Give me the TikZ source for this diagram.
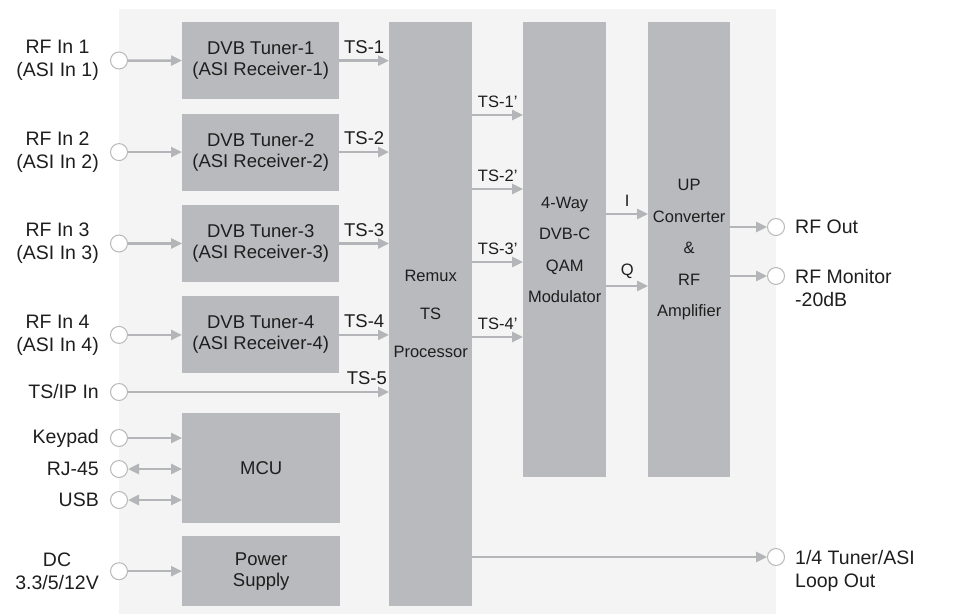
\documentclass[tikz,border=0pt]{standalone}
\usepackage{fontspec}
\setmainfont{Liberation Sans}
\usepackage{tikz}
\usetikzlibrary{arrows.meta,positioning}
\definecolor{PanelGray}{HTML}{F4F4F4}
\definecolor{BoxGray}{HTML}{B9BABD}
\definecolor{LineGray}{HTML}{B4B5B8}
\definecolor{PortGray}{HTML}{B8B8B8}
\definecolor{TextDark}{HTML}{1E1E1E}

\begin{document}
\begin{tikzpicture}[
  x=1pt,y=-1pt,
  node distance=14pt,
  every node/.style={font=\fontsize{18.5}{21}\selectfont,text=TextDark},
  blk/.style={fill=BoxGray,inner sep=0pt,align=center,anchor=north west},
  tuner/.style={blk,minimum width=157pt,minimum height=77pt},
  tall/.style={blk,minimum width=83pt,minimum height=455pt,
    font=\fontsize{16.5}{31.5}\selectfont},
  port/.style={circle,draw=PortGray,fill=white,line width=1pt,
    minimum size=17pt,inner sep=0pt},
  lbl/.style={inner sep=1pt,align=center,font=\fontsize{19.5}{23}\selectfont},
  sig/.style={-{Triangle[length=11pt,width=10pt]},line width=2.5pt,draw=LineGray},
  bidir/.style={sig,{Triangle[length=11pt,width=10pt]}-{Triangle[length=11pt,width=10pt]}},
  tag/.style={above=5pt,inner sep=1pt},
  tagp/.style={tag,font=\fontsize{16.5}{19}\selectfont}
]
  \useasboundingbox (0,0) rectangle (979,614);
  \fill[PanelGray] (119,9) rectangle (776,614);

  % tuners and control blocks
  \node[tuner] (tun1) at (182,22) {DVB Tuner-1\\(ASI Receiver-1)};
  \node[tuner,below=of tun1] (tun2) {DVB Tuner-2\\(ASI Receiver-2)};
  \node[tuner,below=of tun2] (tun3) {DVB Tuner-3\\(ASI Receiver-3)};
  \node[tuner,below=of tun3] (tun4) {DVB Tuner-4\\(ASI Receiver-4)};
  \node[blk,minimum width=158pt,minimum height=110pt] (mcu) at (182,413) {MCU};
  \node[blk,minimum width=158pt,minimum height=70pt] (psu) at (182,536) {Power\\Supply};

  % processing chain
  \node[tall,minimum height=584pt,font=\fontsize{16.5}{38}\selectfont] (remux) at (389,22) {Remux\\TS\\Processor};
  \node[tall] (qam) at (523,22) {4-Way\\DVB-C\\QAM\\Modulator};
  \node[tall,minimum width=82pt] (upc) at (648,22) {UP\\Converter\\\&\\RF\\Amplifier};

  % input ports
  \node[port] (in1) at (119,60.5) {};
  \node[port] (in2) at (in1 |- tun2) {};
  \node[port] (in3) at (in1 |- tun3) {};
  \node[port] (in4) at (in1 |- tun4) {};
  \node[port] (tsip) at (119,392) {};
  \node[port] (key) at (119,438) {};
  \node[port] (rj) at (119,469) {};
  \node[port] (usb) at (119,500) {};
  \node[port] (dc) at (in1 |- psu) {};
  \node[lbl,left=10pt of in1] (lin1) {RF In 1\\(ASI In 1)};
  \node[lbl,left=10pt of in2] (lin2) {RF In 2\\(ASI In 2)};
  \node[lbl,left=10pt of in3] (lin3) {RF In 3\\(ASI In 3)};
  \node[lbl,left=10pt of in4] (lin4) {RF In 4\\(ASI In 4)};
  \node[lbl,left=10pt of tsip] (ltsip) {TS/IP In};
  \node[lbl,left=10pt of key] (lkey) {Keypad};
  \node[lbl,left=10pt of rj] (lrj) {RJ-45};
  \node[lbl,left=10pt of usb] (lusb) {USB};
  \node[lbl,left=10pt of dc] (ldc) {DC\\3.3/5/12V};

  % output ports
  \node[port] (rfout) at (776,227) {};
  \node[port] (rfmon) at (776,276) {};
  \node[port] (loop) at (776,557) {};
  \node[lbl,right=9pt of rfout] (lrfout) {RF Out};
  \node[lbl,align=left,anchor=north west] (lrfmon) at ([xshift=9pt,yshift=7.5pt]rfmon.east) {RF Monitor\\-20dB};
  \node[lbl,align=left,anchor=north west] (lloop) at ([xshift=9pt,yshift=7.5pt]loop.east) {1/4 Tuner/ASI\\Loop Out};

  % inputs
  \draw[sig] (in1) -- (tun1);
  \draw[sig] (in2) -- (tun2);
  \draw[sig] (in3) -- (tun3);
  \draw[sig] (in4) -- (tun4);
  \draw[sig] (key) -- (key -| mcu.west);
  \draw[bidir] (rj) -- (rj -| mcu.west);
  \draw[bidir] (usb) -- (usb -| mcu.west);
  \draw[sig] (dc) -- (psu);

  % transport streams
  \draw[sig] (tun1.east) -- (tun1.east -| remux.west) node[tag,midway] {TS-1};
  \draw[sig] (tun2.east) -- (tun2.east -| remux.west) node[tag,midway] {TS-2};
  \draw[sig] (tun3.east) -- (tun3.east -| remux.west) node[tag,midway] {TS-3};
  \draw[sig] (tun4.east) -- (tun4.east -| remux.west) node[tag,midway] {TS-4};
  \draw[sig] (tsip) -- (tsip -| remux.west) node[tag,pos=0.915] {TS-5};
  \draw[sig] ([yshift=-93pt]remux.north east) -- ([yshift=-93pt]qam.north west) node[tagp,midway] {TS-1'};
  \draw[sig] ([yshift=-167pt]remux.north east) -- ([yshift=-167pt]qam.north west) node[tagp,midway] {TS-2'};
  \draw[sig] ([yshift=-240pt]remux.north east) -- ([yshift=-240pt]qam.north west) node[tagp,midway] {TS-3'};
  \draw[sig] ([yshift=-315pt]remux.north east) -- ([yshift=-315pt]qam.north west) node[tagp,midway] {TS-4'};
  \draw[sig] ([yshift=-192pt]qam.north east) -- ([yshift=-192pt]upc.north west) node[tagp,midway] {I};
  \draw[sig] ([yshift=-264pt]qam.north east) -- ([yshift=-264pt]upc.north west) node[tagp,midway] {Q};

  % outputs
  \draw[sig] (rfout -| upc.east) -- (rfout);
  \draw[sig] (rfmon -| upc.east) -- (rfmon);
  \draw[sig] (loop -| remux.east) -- (loop);
\end{tikzpicture}
\end{document}
